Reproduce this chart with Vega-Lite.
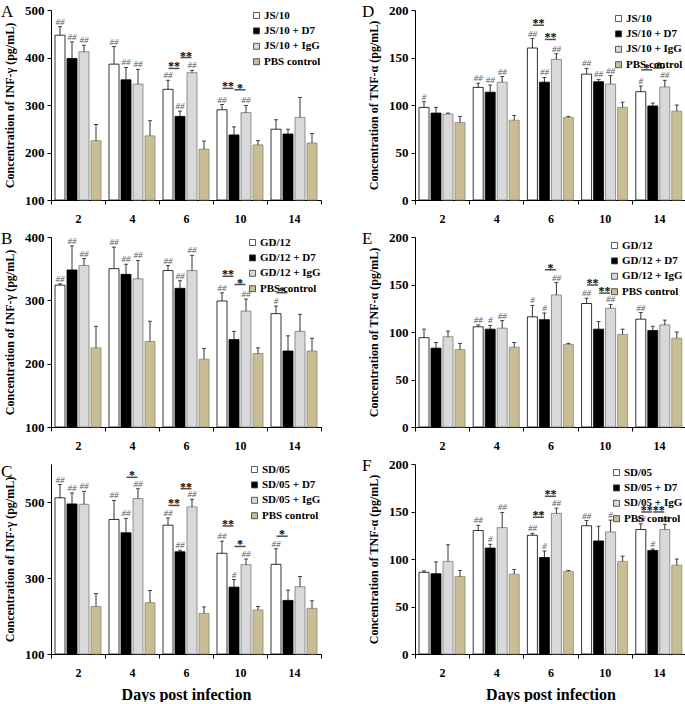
{
"$schema": "https://vega.github.io/schema/vega-lite/v6.json",
"background": "white",
"padding": {"left": 1, "top": 3, "right": 0, "bottom": 0},
"config": {
 "font": "Liberation Serif",
 "view": {"stroke": null},
 "axis": {"labelFont": "Liberation Serif", "labelFontWeight": "bold", "labelColor": "#000", "titleFont": "Liberation Serif", "titleFontWeight": "bold", "titleColor": "#000", "domainColor": "#000", "tickColor": "#000", "grid": false, "tickSize": 4},
 "axisX": {"labelAngle": 0, "labelFontSize": 12, "labelPadding": 9, "tickBand": "extent", "titleFontSize": 16, "titlePadding": 8},
 "axisY": {"labelFontSize": 13, "labelPadding": 3, "titleFontSize": 12, "titlePadding": 8},
 "legend": {"orient": "top-right", "title": null, "offset": 0, "symbolType": "square", "symbolSize": 36, "symbolStrokeColor": "#333", "symbolStrokeWidth": 0.8, "labelFont": "Liberation Serif", "labelFontWeight": "bold", "labelFontSize": 11, "labelColor": "#000", "rowPadding": 3.4, "labelOffset": 2, "padding": 0},
 "title": {"font": "Liberation Serif", "fontWeight": "normal", "fontSize": 17, "anchor": "start", "frame": "group", "color": "#000"}
},
"datasets": {
"bars": [
{"p":"A","day":"2","g":"S","s":"JS/10","v":447,"hi":465,"sig":"##"},
{"p":"A","day":"2","g":"D7","s":"JS/10 + D7","v":398,"hi":433,"sig":"##"},
{"p":"A","day":"2","g":"IgG","s":"JS/10 + IgG","v":412,"hi":426,"sig":"##"},
{"p":"A","day":"2","g":"PBS","s":"PBS control","v":225,"hi":259,"sig":""},
{"p":"A","day":"4","g":"S","s":"JS/10","v":386,"hi":423,"sig":"##"},
{"p":"A","day":"4","g":"D7","s":"JS/10 + D7","v":353,"hi":379,"sig":"##"},
{"p":"A","day":"4","g":"IgG","s":"JS/10 + IgG","v":344,"hi":375,"sig":"##"},
{"p":"A","day":"4","g":"PBS","s":"PBS control","v":235,"hi":267,"sig":""},
{"p":"A","day":"6","g":"S","s":"JS/10","v":333,"hi":352,"sig":"##"},
{"p":"A","day":"6","g":"D7","s":"JS/10 + D7","v":276,"hi":287,"sig":"##"},
{"p":"A","day":"6","g":"IgG","s":"JS/10 + IgG","v":368,"hi":373,"sig":"##"},
{"p":"A","day":"6","g":"PBS","s":"PBS control","v":207,"hi":224,"sig":""},
{"p":"A","day":"10","g":"S","s":"JS/10","v":290,"hi":301,"sig":"##"},
{"p":"A","day":"10","g":"D7","s":"JS/10 + D7","v":237,"hi":254,"sig":""},
{"p":"A","day":"10","g":"IgG","s":"JS/10 + IgG","v":284,"hi":299,"sig":"##"},
{"p":"A","day":"10","g":"PBS","s":"PBS control","v":216,"hi":225,"sig":""},
{"p":"A","day":"14","g":"S","s":"JS/10","v":249,"hi":269,"sig":""},
{"p":"A","day":"14","g":"D7","s":"JS/10 + D7","v":239,"hi":249,"sig":""},
{"p":"A","day":"14","g":"IgG","s":"JS/10 + IgG","v":274,"hi":316,"sig":""},
{"p":"A","day":"14","g":"PBS","s":"PBS control","v":220,"hi":240,"sig":""},
{"p":"D","day":"2","g":"S","s":"JS/10","v":97.5,"hi":103.5,"sig":"#"},
{"p":"D","day":"2","g":"D7","s":"JS/10 + D7","v":91.5,"hi":97.5,"sig":""},
{"p":"D","day":"2","g":"IgG","s":"JS/10 + IgG","v":90.5,"hi":91.5,"sig":""},
{"p":"D","day":"2","g":"PBS","s":"PBS control","v":81.5,"hi":88,"sig":""},
{"p":"D","day":"4","g":"S","s":"JS/10","v":118.5,"hi":123,"sig":"##"},
{"p":"D","day":"4","g":"D7","s":"JS/10 + D7","v":113.5,"hi":121,"sig":"##"},
{"p":"D","day":"4","g":"IgG","s":"JS/10 + IgG","v":124,"hi":130,"sig":"##"},
{"p":"D","day":"4","g":"PBS","s":"PBS control","v":84,"hi":89,"sig":""},
{"p":"D","day":"6","g":"S","s":"JS/10","v":160,"hi":170,"sig":"##"},
{"p":"D","day":"6","g":"D7","s":"JS/10 + D7","v":124,"hi":129,"sig":"##"},
{"p":"D","day":"6","g":"IgG","s":"JS/10 + IgG","v":148,"hi":154,"sig":"##"},
{"p":"D","day":"6","g":"PBS","s":"PBS control","v":87,"hi":88,"sig":""},
{"p":"D","day":"10","g":"S","s":"JS/10","v":132.5,"hi":138.5,"sig":"##"},
{"p":"D","day":"10","g":"D7","s":"JS/10 + D7","v":124.5,"hi":127,"sig":"##"},
{"p":"D","day":"10","g":"IgG","s":"JS/10 + IgG","v":122,"hi":131,"sig":"##"},
{"p":"D","day":"10","g":"PBS","s":"PBS control","v":97.5,"hi":103,"sig":""},
{"p":"D","day":"14","g":"S","s":"JS/10","v":114,"hi":120,"sig":"#"},
{"p":"D","day":"14","g":"D7","s":"JS/10 + D7","v":99,"hi":102,"sig":""},
{"p":"D","day":"14","g":"IgG","s":"JS/10 + IgG","v":119,"hi":126,"sig":"##"},
{"p":"D","day":"14","g":"PBS","s":"PBS control","v":93.5,"hi":100,"sig":""},
{"p":"B","day":"2","g":"S","s":"GD/12","v":324,"hi":326,"sig":"##"},
{"p":"B","day":"2","g":"D7","s":"GD/12 + D7","v":348,"hi":386,"sig":"##"},
{"p":"B","day":"2","g":"IgG","s":"GD/12 + IgG","v":355,"hi":366,"sig":"##"},
{"p":"B","day":"2","g":"PBS","s":"PBS control","v":225,"hi":259,"sig":""},
{"p":"B","day":"4","g":"S","s":"GD/12","v":350,"hi":384,"sig":"##"},
{"p":"B","day":"4","g":"D7","s":"GD/12 + D7","v":341,"hi":357,"sig":"##"},
{"p":"B","day":"4","g":"IgG","s":"GD/12 + IgG","v":334,"hi":363,"sig":"##"},
{"p":"B","day":"4","g":"PBS","s":"PBS control","v":235,"hi":267,"sig":""},
{"p":"B","day":"6","g":"S","s":"GD/12","v":347,"hi":355,"sig":"##"},
{"p":"B","day":"6","g":"D7","s":"GD/12 + D7","v":319,"hi":331,"sig":"##"},
{"p":"B","day":"6","g":"IgG","s":"GD/12 + IgG","v":347,"hi":371,"sig":"##"},
{"p":"B","day":"6","g":"PBS","s":"PBS control","v":207,"hi":224,"sig":""},
{"p":"B","day":"10","g":"S","s":"GD/12","v":299,"hi":312,"sig":"##"},
{"p":"B","day":"10","g":"D7","s":"GD/12 + D7","v":238,"hi":251,"sig":""},
{"p":"B","day":"10","g":"IgG","s":"GD/12 + IgG","v":283,"hi":302,"sig":"##"},
{"p":"B","day":"10","g":"PBS","s":"PBS control","v":216,"hi":225,"sig":""},
{"p":"B","day":"14","g":"S","s":"GD/12","v":279,"hi":291,"sig":"#"},
{"p":"B","day":"14","g":"D7","s":"GD/12 + D7","v":220,"hi":244,"sig":""},
{"p":"B","day":"14","g":"IgG","s":"GD/12 + IgG","v":251,"hi":278,"sig":""},
{"p":"B","day":"14","g":"PBS","s":"PBS control","v":220,"hi":240,"sig":""},
{"p":"E","day":"2","g":"S","s":"GD/12","v":94,"hi":103,"sig":""},
{"p":"E","day":"2","g":"D7","s":"GD/12 + D7","v":83,"hi":89,"sig":""},
{"p":"E","day":"2","g":"IgG","s":"GD/12 + IgG","v":95,"hi":101,"sig":""},
{"p":"E","day":"2","g":"PBS","s":"PBS control","v":81.5,"hi":88,"sig":""},
{"p":"E","day":"4","g":"S","s":"GD/12","v":105.5,"hi":107.5,"sig":"##"},
{"p":"E","day":"4","g":"D7","s":"GD/12 + D7","v":103,"hi":107,"sig":"#"},
{"p":"E","day":"4","g":"IgG","s":"GD/12 + IgG","v":104,"hi":112,"sig":"##"},
{"p":"E","day":"4","g":"PBS","s":"PBS control","v":84,"hi":89,"sig":""},
{"p":"E","day":"6","g":"S","s":"GD/12","v":116,"hi":128,"sig":"#"},
{"p":"E","day":"6","g":"D7","s":"GD/12 + D7","v":113,"hi":120,"sig":"#"},
{"p":"E","day":"6","g":"IgG","s":"GD/12 + IgG","v":139,"hi":152,"sig":"##"},
{"p":"E","day":"6","g":"PBS","s":"PBS control","v":87,"hi":88,"sig":""},
{"p":"E","day":"10","g":"S","s":"GD/12","v":130,"hi":135.5,"sig":"##"},
{"p":"E","day":"10","g":"D7","s":"GD/12 + D7","v":103,"hi":111,"sig":""},
{"p":"E","day":"10","g":"IgG","s":"GD/12 + IgG","v":125,"hi":129,"sig":"##"},
{"p":"E","day":"10","g":"PBS","s":"PBS control","v":97.5,"hi":103,"sig":""},
{"p":"E","day":"14","g":"S","s":"GD/12","v":113.5,"hi":120.5,"sig":"##"},
{"p":"E","day":"14","g":"D7","s":"GD/12 + D7","v":101.5,"hi":106,"sig":""},
{"p":"E","day":"14","g":"IgG","s":"GD/12 + IgG","v":107.5,"hi":112.5,"sig":""},
{"p":"E","day":"14","g":"PBS","s":"PBS control","v":93.5,"hi":100,"sig":""},
{"p":"C","day":"2","g":"S","s":"SD/05","v":511,"hi":546,"sig":"##"},
{"p":"C","day":"2","g":"D7","s":"SD/05 + D7","v":495,"hi":524,"sig":"##"},
{"p":"C","day":"2","g":"IgG","s":"SD/05 + IgG","v":494,"hi":528,"sig":"##"},
{"p":"C","day":"2","g":"PBS","s":"PBS control","v":225,"hi":259,"sig":""},
{"p":"C","day":"4","g":"S","s":"SD/05","v":454,"hi":504,"sig":"##"},
{"p":"C","day":"4","g":"D7","s":"SD/05 + D7","v":419,"hi":457,"sig":"##"},
{"p":"C","day":"4","g":"IgG","s":"SD/05 + IgG","v":509,"hi":535,"sig":"##"},
{"p":"C","day":"4","g":"PBS","s":"PBS control","v":235,"hi":267,"sig":""},
{"p":"C","day":"6","g":"S","s":"SD/05","v":439,"hi":458,"sig":"##"},
{"p":"C","day":"6","g":"D7","s":"SD/05 + D7","v":369,"hi":373,"sig":"##"},
{"p":"C","day":"6","g":"IgG","s":"SD/05 + IgG","v":487,"hi":507,"sig":"##"},
{"p":"C","day":"6","g":"PBS","s":"PBS control","v":207,"hi":224,"sig":""},
{"p":"C","day":"10","g":"S","s":"SD/05","v":365,"hi":397,"sig":"##"},
{"p":"C","day":"10","g":"D7","s":"SD/05 + D7","v":276,"hi":296,"sig":"#"},
{"p":"C","day":"10","g":"IgG","s":"SD/05 + IgG","v":335,"hi":350,"sig":"##"},
{"p":"C","day":"10","g":"PBS","s":"PBS control","v":216,"hi":225,"sig":""},
{"p":"C","day":"14","g":"S","s":"SD/05","v":336,"hi":377,"sig":"##"},
{"p":"C","day":"14","g":"D7","s":"SD/05 + D7","v":241,"hi":268,"sig":""},
{"p":"C","day":"14","g":"IgG","s":"SD/05 + IgG","v":277,"hi":304,"sig":""},
{"p":"C","day":"14","g":"PBS","s":"PBS control","v":220,"hi":240,"sig":""},
{"p":"F","day":"2","g":"S","s":"SD/05","v":86,"hi":87.5,"sig":""},
{"p":"F","day":"2","g":"D7","s":"SD/05 + D7","v":84.5,"hi":97,"sig":""},
{"p":"F","day":"2","g":"IgG","s":"SD/05 + IgG","v":97.5,"hi":115,"sig":""},
{"p":"F","day":"2","g":"PBS","s":"PBS control","v":81.5,"hi":88,"sig":""},
{"p":"F","day":"4","g":"S","s":"SD/05","v":130,"hi":135.5,"sig":"##"},
{"p":"F","day":"4","g":"D7","s":"SD/05 + D7","v":111.5,"hi":115.5,"sig":"#"},
{"p":"F","day":"4","g":"IgG","s":"SD/05 + IgG","v":133,"hi":149,"sig":"##"},
{"p":"F","day":"4","g":"PBS","s":"PBS control","v":84,"hi":89,"sig":""},
{"p":"F","day":"6","g":"S","s":"SD/05","v":125,"hi":127,"sig":"##"},
{"p":"F","day":"6","g":"D7","s":"SD/05 + D7","v":101.5,"hi":108.5,"sig":"#"},
{"p":"F","day":"6","g":"IgG","s":"SD/05 + IgG","v":148,"hi":153.5,"sig":"##"},
{"p":"F","day":"6","g":"PBS","s":"PBS control","v":87,"hi":88,"sig":""},
{"p":"F","day":"10","g":"S","s":"SD/05","v":135,"hi":140.5,"sig":"##"},
{"p":"F","day":"10","g":"D7","s":"SD/05 + D7","v":119,"hi":134.5,"sig":""},
{"p":"F","day":"10","g":"IgG","s":"SD/05 + IgG","v":128.5,"hi":141,"sig":"#"},
{"p":"F","day":"10","g":"PBS","s":"PBS control","v":97.5,"hi":103,"sig":""},
{"p":"F","day":"14","g":"S","s":"SD/05","v":131,"hi":137,"sig":"##"},
{"p":"F","day":"14","g":"D7","s":"SD/05 + D7","v":109,"hi":110.5,"sig":"#"},
{"p":"F","day":"14","g":"IgG","s":"SD/05 + IgG","v":131,"hi":136.5,"sig":"##"},
{"p":"F","day":"14","g":"PBS","s":"PBS control","v":93.5,"hi":100,"sig":""}
],
"brk": [
{"p":"A","day":"6","pos":"S|D7","lvl":377,"star":"**"},
{"p":"A","day":"6","pos":"D7|IgG","lvl":400,"star":"**"},
{"p":"A","day":"10","pos":"S|D7","lvl":335,"star":"**"},
{"p":"A","day":"10","pos":"D7|IgG","lvl":332,"star":"*"},
{"p":"D","day":"6","pos":"S|D7","lvl":184,"star":"**"},
{"p":"D","day":"6","pos":"D7|IgG","lvl":169,"star":"**"},
{"p":"D","day":"14","pos":"S|D7","lvl":137,"star":"*"},
{"p":"D","day":"14","pos":"D7|IgG","lvl":139,"star":"*"},
{"p":"B","day":"10","pos":"S|D7","lvl":338,"star":"**"},
{"p":"B","day":"10","pos":"D7|IgG","lvl":325,"star":"*"},
{"p":"B","day":"14","pos":"S|D7","lvl":312,"star":"*"},
{"p":"E","day":"6","pos":"D7|IgG","lvl":165.5,"star":"*"},
{"p":"E","day":"10","pos":"S|D7","lvl":149.5,"star":"**"},
{"p":"E","day":"10","pos":"D7|IgG","lvl":141,"star":"**"},
{"p":"C","day":"4","pos":"D7|IgG","lvl":565,"star":"*"},
{"p":"C","day":"6","pos":"S|D7","lvl":491,"star":"**"},
{"p":"C","day":"6","pos":"D7|IgG","lvl":535,"star":"**"},
{"p":"C","day":"10","pos":"S|D7","lvl":437,"star":"**"},
{"p":"C","day":"10","pos":"D7|IgG","lvl":383,"star":"*"},
{"p":"C","day":"14","pos":"S|D7","lvl":410,"star":"*"},
{"p":"F","day":"6","pos":"S|D7","lvl":144,"star":"**"},
{"p":"F","day":"6","pos":"D7|IgG","lvl":166,"star":"**"},
{"p":"F","day":"14","pos":"S|D7","lvl":149.5,"star":"**"},
{"p":"F","day":"14","pos":"D7|IgG","lvl":149.5,"star":"**"}
]
},
"vconcat": [
{"hconcat": [
{"width": 270, "height": 190, "title": {"text": "A", "dx": -50, "offset": -17},
 "layer": [
  {"data": {"name": "bars"}, "transform": [{"filter": "datum.p === 'A'"}], "mark": {"type": "bar", "width": 10, "strokeWidth": 0.8},
   "encoding": {
    "x": {"field": "day", "type": "nominal", "scale": {"domain": ["2","4","6","10","14"], "paddingInner": 0, "paddingOuter": 0}, "axis": {"title": null}},
    "xOffset": {"field": "g", "scale": {"domain": ["S","S|D7","D7","D7|IgG","IgG","IgG|PBS","PBS"], "paddingInner": 0, "paddingOuter": 1.9}},
    "y": {"field": "v", "type": "quantitative", "scale": {"domain": [100, 500], "nice": false, "zero": false}, "axis": {"values": [100,200,300,400,500], "title": "Concentration of INF-γ (pg/mL)"}},
    "y2": {"datum": 100},
    "color": {"field": "s", "type": "nominal", "scale": {"domain": ["JS/10","JS/10 + D7","JS/10 + IgG","PBS control"], "range": ["#ffffff","#000000","#d9d9d9","#c8bd93"]}},
    "stroke": {"field": "g", "scale": {"domain": ["S","D7","IgG","PBS"], "range": ["#000000","#000000","#7a7a7a","#8a8a7a"]}, "legend": null}
   }},
  {"data": {"name": "bars"}, "transform": [{"filter": "datum.p === 'A'"}], "mark": {"type": "rule", "color": "#000", "strokeWidth": 0.8},
   "encoding": {"x": {"field": "day", "type": "nominal"}, "xOffset": {"field": "g"}, "y": {"field": "v", "type": "quantitative"}, "y2": {"field": "hi"}}},
  {"data": {"name": "bars"}, "transform": [{"filter": "datum.p === 'A'"}], "mark": {"type": "tick", "color": "#000", "size": 4, "thickness": 1, "orient": "horizontal"},
   "encoding": {"x": {"field": "day", "type": "nominal"}, "xOffset": {"field": "g"}, "y": {"field": "hi", "type": "quantitative"}}},
  {"data": {"name": "bars"}, "transform": [{"filter": "datum.p === 'A'"}], "mark": {"type": "text", "fontSize": 9, "fontStyle": "italic", "fill": "#555", "baseline": "alphabetic", "dy": -2},
   "encoding": {"x": {"field": "day", "type": "nominal"}, "xOffset": {"field": "g"}, "y": {"field": "hi", "type": "quantitative"}, "text": {"field": "sig"}}},
  {"data": {"name": "brk"}, "transform": [{"filter": "datum.p === 'A'"}], "mark": {"type": "tick", "color": "#000", "size": 11, "thickness": 1.5, "orient": "horizontal"},
   "encoding": {"x": {"field": "day", "type": "nominal"}, "xOffset": {"field": "pos"}, "y": {"field": "lvl", "type": "quantitative"}}},
  {"data": {"name": "brk"}, "transform": [{"filter": "datum.p === 'A'"}], "mark": {"type": "text", "fontSize": 12, "fontWeight": "bold", "fill": "#000", "opacity": 0.99, "baseline": "alphabetic", "dy": 2},
   "encoding": {"x": {"field": "day", "type": "nominal"}, "xOffset": {"field": "pos"}, "y": {"field": "lvl", "type": "quantitative"}, "text": {"field": "star"}}}
 ]},
{"width": 271, "height": 190, "title": {"text": "D", "dx": -53, "offset": -17},
 "layer": [
  {"data": {"name": "bars"}, "transform": [{"filter": "datum.p === 'D'"}], "mark": {"type": "bar", "width": 10, "strokeWidth": 0.8},
   "encoding": {
    "x": {"field": "day", "type": "nominal", "scale": {"domain": ["2","4","6","10","14"], "paddingInner": 0, "paddingOuter": 0}, "axis": {"title": null}},
    "xOffset": {"field": "g", "scale": {"domain": ["S","S|D7","D7","D7|IgG","IgG","IgG|PBS","PBS"], "paddingInner": 0, "paddingOuter": 1.9}},
    "y": {"field": "v", "type": "quantitative", "scale": {"domain": [0, 200], "nice": false}, "axis": {"values": [0,50,100,150,200], "title": "Concentration of TNF-α (pg/mL)"}},
    "color": {"field": "s", "type": "nominal", "scale": {"domain": ["JS/10","JS/10 + D7","JS/10 + IgG","PBS control"], "range": ["#ffffff","#000000","#d9d9d9","#c8bd93"]}, "legend": {"offset": 3}},
    "stroke": {"field": "g", "scale": {"domain": ["S","D7","IgG","PBS"], "range": ["#000000","#000000","#7a7a7a","#8a8a7a"]}, "legend": null}
   }},
  {"data": {"name": "bars"}, "transform": [{"filter": "datum.p === 'D'"}], "mark": {"type": "rule", "color": "#000", "strokeWidth": 0.8},
   "encoding": {"x": {"field": "day", "type": "nominal"}, "xOffset": {"field": "g"}, "y": {"field": "v", "type": "quantitative"}, "y2": {"field": "hi"}}},
  {"data": {"name": "bars"}, "transform": [{"filter": "datum.p === 'D'"}], "mark": {"type": "tick", "color": "#000", "size": 4, "thickness": 1, "orient": "horizontal"},
   "encoding": {"x": {"field": "day", "type": "nominal"}, "xOffset": {"field": "g"}, "y": {"field": "hi", "type": "quantitative"}}},
  {"data": {"name": "bars"}, "transform": [{"filter": "datum.p === 'D'"}], "mark": {"type": "text", "fontSize": 9, "fontStyle": "italic", "fill": "#555", "baseline": "alphabetic", "dy": -2},
   "encoding": {"x": {"field": "day", "type": "nominal"}, "xOffset": {"field": "g"}, "y": {"field": "hi", "type": "quantitative"}, "text": {"field": "sig"}}},
  {"data": {"name": "brk"}, "transform": [{"filter": "datum.p === 'D'"}], "mark": {"type": "tick", "color": "#000", "size": 11, "thickness": 1.5, "orient": "horizontal"},
   "encoding": {"x": {"field": "day", "type": "nominal"}, "xOffset": {"field": "pos"}, "y": {"field": "lvl", "type": "quantitative"}}},
  {"data": {"name": "brk"}, "transform": [{"filter": "datum.p === 'D'"}], "mark": {"type": "text", "fontSize": 12, "fontWeight": "bold", "fill": "#000", "opacity": 0.99, "baseline": "alphabetic", "dy": 2},
   "encoding": {"x": {"field": "day", "type": "nominal"}, "xOffset": {"field": "pos"}, "y": {"field": "lvl", "type": "quantitative"}, "text": {"field": "star"}}}
 ]}
], "spacing": 40, "resolve": {"scale": {"color": "independent", "y": "independent"}}},
{"hconcat": [
{"width": 270, "height": 190, "title": {"text": "B", "dx": -50, "offset": -17},
 "layer": [
  {"data": {"name": "bars"}, "transform": [{"filter": "datum.p === 'B'"}], "mark": {"type": "bar", "width": 10, "strokeWidth": 0.8},
   "encoding": {
    "x": {"field": "day", "type": "nominal", "scale": {"domain": ["2","4","6","10","14"], "paddingInner": 0, "paddingOuter": 0}, "axis": {"title": null}},
    "xOffset": {"field": "g", "scale": {"domain": ["S","S|D7","D7","D7|IgG","IgG","IgG|PBS","PBS"], "paddingInner": 0, "paddingOuter": 1.9}},
    "y": {"field": "v", "type": "quantitative", "scale": {"domain": [100, 400], "nice": false, "zero": false}, "axis": {"values": [100,200,300,400], "title": "Concentration of INF-γ (pg/mL)"}},
    "y2": {"datum": 100},
    "color": {"field": "s", "type": "nominal", "scale": {"domain": ["GD/12","GD/12 + D7","GD/12 + IgG","PBS control"], "range": ["#ffffff","#000000","#d9d9d9","#c8bd93"]}},
    "stroke": {"field": "g", "scale": {"domain": ["S","D7","IgG","PBS"], "range": ["#000000","#000000","#7a7a7a","#8a8a7a"]}, "legend": null}
   }},
  {"data": {"name": "bars"}, "transform": [{"filter": "datum.p === 'B'"}], "mark": {"type": "rule", "color": "#000", "strokeWidth": 0.8},
   "encoding": {"x": {"field": "day", "type": "nominal"}, "xOffset": {"field": "g"}, "y": {"field": "v", "type": "quantitative"}, "y2": {"field": "hi"}}},
  {"data": {"name": "bars"}, "transform": [{"filter": "datum.p === 'B'"}], "mark": {"type": "tick", "color": "#000", "size": 4, "thickness": 1, "orient": "horizontal"},
   "encoding": {"x": {"field": "day", "type": "nominal"}, "xOffset": {"field": "g"}, "y": {"field": "hi", "type": "quantitative"}}},
  {"data": {"name": "bars"}, "transform": [{"filter": "datum.p === 'B'"}], "mark": {"type": "text", "fontSize": 9, "fontStyle": "italic", "fill": "#555", "baseline": "alphabetic", "dy": -2},
   "encoding": {"x": {"field": "day", "type": "nominal"}, "xOffset": {"field": "g"}, "y": {"field": "hi", "type": "quantitative"}, "text": {"field": "sig"}}},
  {"data": {"name": "brk"}, "transform": [{"filter": "datum.p === 'B'"}], "mark": {"type": "tick", "color": "#000", "size": 11, "thickness": 1.5, "orient": "horizontal"},
   "encoding": {"x": {"field": "day", "type": "nominal"}, "xOffset": {"field": "pos"}, "y": {"field": "lvl", "type": "quantitative"}}},
  {"data": {"name": "brk"}, "transform": [{"filter": "datum.p === 'B'"}], "mark": {"type": "text", "fontSize": 12, "fontWeight": "bold", "fill": "#000", "opacity": 0.99, "baseline": "alphabetic", "dy": 2},
   "encoding": {"x": {"field": "day", "type": "nominal"}, "xOffset": {"field": "pos"}, "y": {"field": "lvl", "type": "quantitative"}, "text": {"field": "star"}}}
 ]},
{"width": 271, "height": 190, "title": {"text": "E", "dx": -53, "offset": -17},
 "layer": [
  {"data": {"name": "bars"}, "transform": [{"filter": "datum.p === 'E'"}], "mark": {"type": "bar", "width": 10, "strokeWidth": 0.8},
   "encoding": {
    "x": {"field": "day", "type": "nominal", "scale": {"domain": ["2","4","6","10","14"], "paddingInner": 0, "paddingOuter": 0}, "axis": {"title": null}},
    "xOffset": {"field": "g", "scale": {"domain": ["S","S|D7","D7","D7|IgG","IgG","IgG|PBS","PBS"], "paddingInner": 0, "paddingOuter": 1.9}},
    "y": {"field": "v", "type": "quantitative", "scale": {"domain": [0, 200], "nice": false}, "axis": {"values": [0,50,100,150,200], "title": "Concentration of TNF-α (pg/mL)"}},
    "color": {"field": "s", "type": "nominal", "scale": {"domain": ["GD/12","GD/12 + D7","GD/12 + IgG","PBS control"], "range": ["#ffffff","#000000","#d9d9d9","#c8bd93"]}, "legend": {"offset": 3}},
    "stroke": {"field": "g", "scale": {"domain": ["S","D7","IgG","PBS"], "range": ["#000000","#000000","#7a7a7a","#8a8a7a"]}, "legend": null}
   }},
  {"data": {"name": "bars"}, "transform": [{"filter": "datum.p === 'E'"}], "mark": {"type": "rule", "color": "#000", "strokeWidth": 0.8},
   "encoding": {"x": {"field": "day", "type": "nominal"}, "xOffset": {"field": "g"}, "y": {"field": "v", "type": "quantitative"}, "y2": {"field": "hi"}}},
  {"data": {"name": "bars"}, "transform": [{"filter": "datum.p === 'E'"}], "mark": {"type": "tick", "color": "#000", "size": 4, "thickness": 1, "orient": "horizontal"},
   "encoding": {"x": {"field": "day", "type": "nominal"}, "xOffset": {"field": "g"}, "y": {"field": "hi", "type": "quantitative"}}},
  {"data": {"name": "bars"}, "transform": [{"filter": "datum.p === 'E'"}], "mark": {"type": "text", "fontSize": 9, "fontStyle": "italic", "fill": "#555", "baseline": "alphabetic", "dy": -2},
   "encoding": {"x": {"field": "day", "type": "nominal"}, "xOffset": {"field": "g"}, "y": {"field": "hi", "type": "quantitative"}, "text": {"field": "sig"}}},
  {"data": {"name": "brk"}, "transform": [{"filter": "datum.p === 'E'"}], "mark": {"type": "tick", "color": "#000", "size": 11, "thickness": 1.5, "orient": "horizontal"},
   "encoding": {"x": {"field": "day", "type": "nominal"}, "xOffset": {"field": "pos"}, "y": {"field": "lvl", "type": "quantitative"}}},
  {"data": {"name": "brk"}, "transform": [{"filter": "datum.p === 'E'"}], "mark": {"type": "text", "fontSize": 12, "fontWeight": "bold", "fill": "#000", "opacity": 0.99, "baseline": "alphabetic", "dy": 2},
   "encoding": {"x": {"field": "day", "type": "nominal"}, "xOffset": {"field": "pos"}, "y": {"field": "lvl", "type": "quantitative"}, "text": {"field": "star"}}}
 ]}
], "spacing": 40, "resolve": {"scale": {"color": "independent", "y": "independent"}}},
{"hconcat": [
{"width": 270, "height": 190, "title": {"text": "C", "dx": -50, "offset": -17},
 "layer": [
  {"data": {"name": "bars"}, "transform": [{"filter": "datum.p === 'C'"}], "mark": {"type": "bar", "width": 10, "strokeWidth": 0.8},
   "encoding": {
    "x": {"field": "day", "type": "nominal", "scale": {"domain": ["2","4","6","10","14"], "paddingInner": 0, "paddingOuter": 0}, "axis": {"title": "Days post infection"}},
    "xOffset": {"field": "g", "scale": {"domain": ["S","S|D7","D7","D7|IgG","IgG","IgG|PBS","PBS"], "paddingInner": 0, "paddingOuter": 1.9}},
    "y": {"field": "v", "type": "quantitative", "scale": {"domain": [100, 600], "nice": false, "zero": false}, "axis": {"values": [100,200,300,400,500,600], "title": "Concentration of INF-γ (pg/mL)"}},
    "y2": {"datum": 100},
    "color": {"field": "s", "type": "nominal", "scale": {"domain": ["SD/05","SD/05 + D7","SD/05 + IgG","PBS control"], "range": ["#ffffff","#000000","#d9d9d9","#c8bd93"]}},
    "stroke": {"field": "g", "scale": {"domain": ["S","D7","IgG","PBS"], "range": ["#000000","#000000","#7a7a7a","#8a8a7a"]}, "legend": null}
   }},
  {"data": {"name": "bars"}, "transform": [{"filter": "datum.p === 'C'"}], "mark": {"type": "rule", "color": "#000", "strokeWidth": 0.8},
   "encoding": {"x": {"field": "day", "type": "nominal"}, "xOffset": {"field": "g"}, "y": {"field": "v", "type": "quantitative"}, "y2": {"field": "hi"}}},
  {"data": {"name": "bars"}, "transform": [{"filter": "datum.p === 'C'"}], "mark": {"type": "tick", "color": "#000", "size": 4, "thickness": 1, "orient": "horizontal"},
   "encoding": {"x": {"field": "day", "type": "nominal"}, "xOffset": {"field": "g"}, "y": {"field": "hi", "type": "quantitative"}}},
  {"data": {"name": "bars"}, "transform": [{"filter": "datum.p === 'C'"}], "mark": {"type": "text", "fontSize": 9, "fontStyle": "italic", "fill": "#555", "baseline": "alphabetic", "dy": -2},
   "encoding": {"x": {"field": "day", "type": "nominal"}, "xOffset": {"field": "g"}, "y": {"field": "hi", "type": "quantitative"}, "text": {"field": "sig"}}},
  {"data": {"name": "brk"}, "transform": [{"filter": "datum.p === 'C'"}], "mark": {"type": "tick", "color": "#000", "size": 11, "thickness": 1.5, "orient": "horizontal"},
   "encoding": {"x": {"field": "day", "type": "nominal"}, "xOffset": {"field": "pos"}, "y": {"field": "lvl", "type": "quantitative"}}},
  {"data": {"name": "brk"}, "transform": [{"filter": "datum.p === 'C'"}], "mark": {"type": "text", "fontSize": 12, "fontWeight": "bold", "fill": "#000", "opacity": 0.99, "baseline": "alphabetic", "dy": 2},
   "encoding": {"x": {"field": "day", "type": "nominal"}, "xOffset": {"field": "pos"}, "y": {"field": "lvl", "type": "quantitative"}, "text": {"field": "star"}}}
 ]},
{"width": 271, "height": 190, "title": {"text": "F", "dx": -53, "offset": -17},
 "layer": [
  {"data": {"name": "bars"}, "transform": [{"filter": "datum.p === 'F'"}], "mark": {"type": "bar", "width": 10, "strokeWidth": 0.8},
   "encoding": {
    "x": {"field": "day", "type": "nominal", "scale": {"domain": ["2","4","6","10","14"], "paddingInner": 0, "paddingOuter": 0}, "axis": {"title": "Days post infection"}},
    "xOffset": {"field": "g", "scale": {"domain": ["S","S|D7","D7","D7|IgG","IgG","IgG|PBS","PBS"], "paddingInner": 0, "paddingOuter": 1.9}},
    "y": {"field": "v", "type": "quantitative", "scale": {"domain": [0, 200], "nice": false}, "axis": {"values": [0,50,100,150,200], "title": "Concentration of TNF-α (pg/mL)"}},
    "color": {"field": "s", "type": "nominal", "scale": {"domain": ["SD/05","SD/05 + D7","SD/05 + IgG","PBS control"], "range": ["#ffffff","#000000","#d9d9d9","#c8bd93"]}, "legend": {"offset": 3}},
    "stroke": {"field": "g", "scale": {"domain": ["S","D7","IgG","PBS"], "range": ["#000000","#000000","#7a7a7a","#8a8a7a"]}, "legend": null}
   }},
  {"data": {"name": "bars"}, "transform": [{"filter": "datum.p === 'F'"}], "mark": {"type": "rule", "color": "#000", "strokeWidth": 0.8},
   "encoding": {"x": {"field": "day", "type": "nominal"}, "xOffset": {"field": "g"}, "y": {"field": "v", "type": "quantitative"}, "y2": {"field": "hi"}}},
  {"data": {"name": "bars"}, "transform": [{"filter": "datum.p === 'F'"}], "mark": {"type": "tick", "color": "#000", "size": 4, "thickness": 1, "orient": "horizontal"},
   "encoding": {"x": {"field": "day", "type": "nominal"}, "xOffset": {"field": "g"}, "y": {"field": "hi", "type": "quantitative"}}},
  {"data": {"name": "bars"}, "transform": [{"filter": "datum.p === 'F'"}], "mark": {"type": "text", "fontSize": 9, "fontStyle": "italic", "fill": "#555", "baseline": "alphabetic", "dy": -2},
   "encoding": {"x": {"field": "day", "type": "nominal"}, "xOffset": {"field": "g"}, "y": {"field": "hi", "type": "quantitative"}, "text": {"field": "sig"}}},
  {"data": {"name": "brk"}, "transform": [{"filter": "datum.p === 'F'"}], "mark": {"type": "tick", "color": "#000", "size": 11, "thickness": 1.5, "orient": "horizontal"},
   "encoding": {"x": {"field": "day", "type": "nominal"}, "xOffset": {"field": "pos"}, "y": {"field": "lvl", "type": "quantitative"}}},
  {"data": {"name": "brk"}, "transform": [{"filter": "datum.p === 'F'"}], "mark": {"type": "text", "fontSize": 12, "fontWeight": "bold", "fill": "#000", "opacity": 0.99, "baseline": "alphabetic", "dy": 2},
   "encoding": {"x": {"field": "day", "type": "nominal"}, "xOffset": {"field": "pos"}, "y": {"field": "lvl", "type": "quantitative"}, "text": {"field": "star"}}}
 ]}
], "spacing": 40, "resolve": {"scale": {"color": "independent", "y": "independent"}}}
],
"spacing": 6,
"resolve": {"scale": {"color": "independent", "y": "independent"}}
}
